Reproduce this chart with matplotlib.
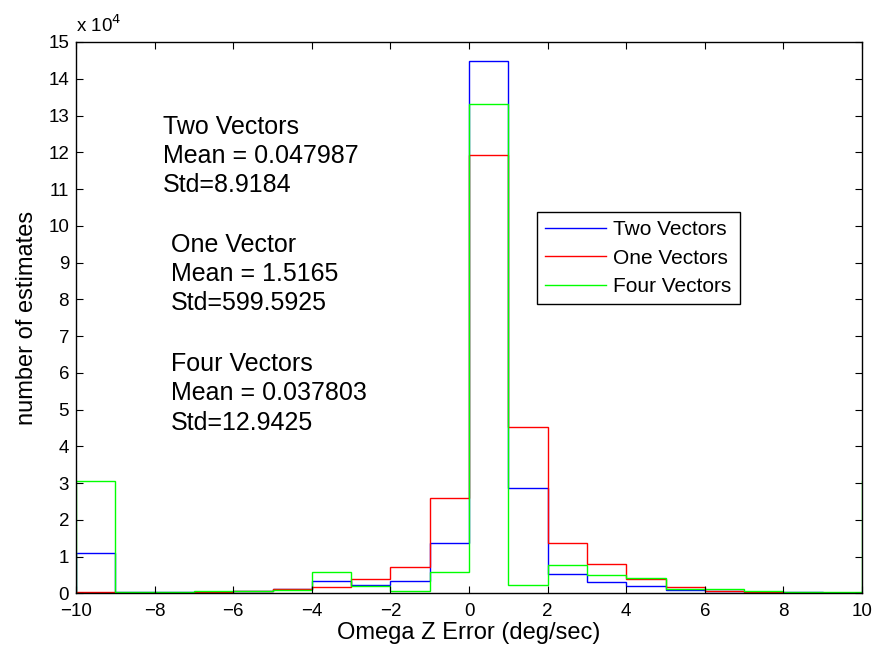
import matplotlib
matplotlib.use('Agg')
import matplotlib.pyplot as plt
import numpy as np
from matplotlib.ticker import FuncFormatter

plt.rcParams['font.family'] = ['Liberation Sans', 'DejaVu Sans']

# 直方図のビン境界 (deg/sec)
bin_edges = np.arange(-10, 11, 1)

# 各ビンの推定数
two_vectors = [11100, 500, 500, 500, 800, 1300, 3300, 2400, 3400, 13800,
               144900, 28700, 5300, 3200, 2100, 1000, 700, 400, 300, 200]
one_vectors = [500, 100, 100, 300, 700, 1200, 1800, 3900, 7300, 26000,
               119300, 45300, 13600, 7900, 3900, 1800, 800, 500, 100, 100]
four_vectors = [30500, 500, 500, 700, 700, 1000, 5800, 2000, 800, 5800,
                133000, 2300, 7800, 4900, 4200, 1200, 1300, 800, 500, 500]

series_names = ['Two Vectors', 'One Vectors', 'Four Vectors']
series_colors = ['#0000ff', '#ff0000', '#00ff00']

stats_text = [
    'Two Vectors\nMean = 0.047987\nStd=8.9184',
    'One Vector\nMean = 1.5165\nStd=599.5925',
    'Four Vectors\nMean = 0.037803\nStd=12.9425',
]

fig = plt.figure(figsize=(8.78, 6.56), dpi=100, facecolor='white')
ax = fig.add_axes([0.0866, 0.0953, 0.8952, 0.8407])

for vals, name, col in zip([two_vectors, one_vectors, four_vectors], series_names, series_colors):
    ax.stairs(vals, bin_edges, baseline=0, color=col, linewidth=1.0, label=name)

# 右端の緑の縦線 (MATLAB描画の名残)
ax.plot([bin_edges[-1], bin_edges[-1]], [0, four_vectors[0]], color=series_colors[2], linewidth=1.0)

ax.set_xlim(-10, 10)
ax.set_ylim(0, 150000)
ax.set_xticks(np.arange(-10, 11, 2))
ax.set_yticks(np.arange(0, 150001, 10000))
ax.yaxis.set_major_formatter(FuncFormatter(lambda v, p: '%d' % round(v / 1e4)))
ax.tick_params(direction='in', top=True, right=True, length=5, width=0.8, labelsize=13.5)
ax.tick_params(axis='x', pad=7)
ax.tick_params(axis='y', pad=5)
for s in ax.spines.values():
    s.set_linewidth(1.0)

ax.text(0.0, 1.01, r'x 10$^4$', transform=ax.transAxes, fontsize=13.5, ha='left', va='bottom')

ax.set_xlabel('Omega Z Error (deg/sec)', fontsize=17, labelpad=1)
ax.set_ylabel('number of estimates', fontsize=17, labelpad=7)

ax.text(-7.79, 119000, stats_text[0], fontsize=18, va='center', ha='left', linespacing=1.28)
ax.text(-7.58, 86900, stats_text[1], fontsize=18, va='center', ha='left', linespacing=1.28)
ax.text(-7.58, 54400, stats_text[2], fontsize=18, va='center', ha='left', linespacing=1.28)

leg = ax.legend(loc='upper left', bbox_to_anchor=(0.5865, 0.692), borderaxespad=0,
                fontsize=15, handlelength=2.9, fancybox=False, framealpha=1,
                edgecolor='black', borderpad=0.4, labelspacing=0.45, handletextpad=0.35)
leg.get_frame().set_linewidth(1.0)
for h in leg.get_lines():
    h.set_linewidth(1.0)

fig.savefig('out.png', dpi=100)
